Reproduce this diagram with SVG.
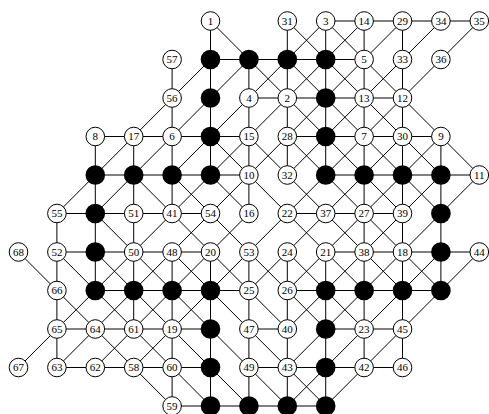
<svg xmlns="http://www.w3.org/2000/svg" width="489" height="414" viewBox="0 0 489 414">
<style>
.e line{stroke:#000;stroke-width:1;vector-effect:non-scaling-stroke}
.w{fill:#fff;stroke:#000;stroke-width:1}
.b{fill:#000}
text{font-family:"Liberation Serif","Times New Roman",serif;font-size:11px;text-anchor:middle}
</style>
<rect width="489" height="414" fill="#fff"/>
<g id="edges" class="e" transform="translate(18.5 21) scale(38.4 38.5)">
<line x1="8" y1="0" x2="9" y2="0"/><line x1="9" y1="0" x2="10" y2="0"/><line x1="10" y1="0" x2="11" y2="0"/><line x1="11" y1="0" x2="12" y2="0"/>
<line x1="5" y1="1" x2="6" y2="1"/><line x1="6" y1="1" x2="7" y2="1"/><line x1="7" y1="1" x2="8" y2="1"/><line x1="8" y1="1" x2="9" y2="1"/>
<line x1="6" y1="2" x2="7" y2="2"/><line x1="7" y1="2" x2="8" y2="2"/><line x1="8" y1="2" x2="9" y2="2"/><line x1="9" y1="2" x2="10" y2="2"/>
<line x1="2" y1="3" x2="3" y2="3"/><line x1="3" y1="3" x2="4" y2="3"/><line x1="4" y1="3" x2="5" y2="3"/><line x1="5" y1="3" x2="6" y2="3"/><line x1="7" y1="3" x2="8" y2="3"/><line x1="8" y1="3" x2="9" y2="3"/><line x1="9" y1="3" x2="10" y2="3"/><line x1="10" y1="3" x2="11" y2="3"/>
<line x1="2" y1="4" x2="3" y2="4"/><line x1="3" y1="4" x2="4" y2="4"/><line x1="4" y1="4" x2="5" y2="4"/><line x1="5" y1="4" x2="6" y2="4"/><line x1="8" y1="4" x2="9" y2="4"/><line x1="9" y1="4" x2="10" y2="4"/><line x1="10" y1="4" x2="11" y2="4"/><line x1="11" y1="4" x2="12" y2="4"/>
<line x1="1" y1="5" x2="2" y2="5"/><line x1="2" y1="5" x2="3" y2="5"/><line x1="3" y1="5" x2="4" y2="5"/><line x1="4" y1="5" x2="5" y2="5"/><line x1="7" y1="5" x2="8" y2="5"/><line x1="8" y1="5" x2="9" y2="5"/><line x1="9" y1="5" x2="10" y2="5"/>
<line x1="1" y1="6" x2="2" y2="6"/><line x1="2" y1="6" x2="3" y2="6"/><line x1="3" y1="6" x2="4" y2="6"/><line x1="4" y1="6" x2="5" y2="6"/><line x1="8" y1="6" x2="9" y2="6"/><line x1="9" y1="6" x2="10" y2="6"/><line x1="10" y1="6" x2="11" y2="6"/><line x1="11" y1="6" x2="12" y2="6"/>
<line x1="2" y1="7" x2="3" y2="7"/><line x1="3" y1="7" x2="4" y2="7"/><line x1="4" y1="7" x2="5" y2="7"/><line x1="5" y1="7" x2="6" y2="7"/><line x1="7" y1="7" x2="8" y2="7"/><line x1="8" y1="7" x2="9" y2="7"/><line x1="9" y1="7" x2="10" y2="7"/><line x1="10" y1="7" x2="11" y2="7"/>
<line x1="1" y1="8" x2="2" y2="8"/><line x1="2" y1="8" x2="3" y2="8"/><line x1="3" y1="8" x2="4" y2="8"/><line x1="4" y1="8" x2="5" y2="8"/><line x1="6" y1="8" x2="7" y2="8"/><line x1="8" y1="8" x2="9" y2="8"/><line x1="9" y1="8" x2="10" y2="8"/>
<line x1="1" y1="9" x2="2" y2="9"/><line x1="2" y1="9" x2="3" y2="9"/><line x1="3" y1="9" x2="4" y2="9"/><line x1="4" y1="9" x2="5" y2="9"/><line x1="6" y1="9" x2="7" y2="9"/><line x1="7" y1="9" x2="8" y2="9"/><line x1="8" y1="9" x2="9" y2="9"/><line x1="9" y1="9" x2="10" y2="9"/>
<line x1="4" y1="10" x2="5" y2="10"/><line x1="5" y1="10" x2="6" y2="10"/><line x1="6" y1="10" x2="7" y2="10"/><line x1="7" y1="10" x2="8" y2="10"/>
<line x1="1" y1="5" x2="1" y2="6"/><line x1="1" y1="6" x2="1" y2="7"/><line x1="1" y1="7" x2="1" y2="8"/><line x1="1" y1="8" x2="1" y2="9"/>
<line x1="2" y1="3" x2="2" y2="4"/><line x1="2" y1="4" x2="2" y2="5"/><line x1="2" y1="5" x2="2" y2="6"/><line x1="2" y1="6" x2="2" y2="7"/>
<line x1="3" y1="3" x2="3" y2="4"/><line x1="3" y1="4" x2="3" y2="5"/><line x1="3" y1="5" x2="3" y2="6"/><line x1="3" y1="6" x2="3" y2="7"/><line x1="3" y1="7" x2="3" y2="8"/>
<line x1="4" y1="1" x2="4" y2="2"/><line x1="4" y1="2" x2="4" y2="3"/><line x1="4" y1="3" x2="4" y2="4"/><line x1="4" y1="4" x2="4" y2="5"/><line x1="4" y1="6" x2="4" y2="7"/><line x1="4" y1="7" x2="4" y2="8"/><line x1="4" y1="8" x2="4" y2="9"/><line x1="4" y1="9" x2="4" y2="10"/>
<line x1="5" y1="0" x2="5" y2="1"/><line x1="5" y1="1" x2="5" y2="2"/><line x1="5" y1="2" x2="5" y2="3"/><line x1="5" y1="3" x2="5" y2="4"/><line x1="5" y1="6" x2="5" y2="7"/><line x1="5" y1="7" x2="5" y2="8"/><line x1="5" y1="8" x2="5" y2="9"/><line x1="5" y1="9" x2="5" y2="10"/>
<line x1="6" y1="1" x2="6" y2="2"/><line x1="6" y1="2" x2="6" y2="3"/><line x1="6" y1="3" x2="6" y2="4"/><line x1="6" y1="4" x2="6" y2="5"/><line x1="6" y1="6" x2="6" y2="7"/><line x1="6" y1="7" x2="6" y2="8"/><line x1="6" y1="8" x2="6" y2="9"/><line x1="6" y1="9" x2="6" y2="10"/>
<line x1="7" y1="0" x2="7" y2="1"/><line x1="7" y1="1" x2="7" y2="2"/><line x1="7" y1="2" x2="7" y2="3"/><line x1="7" y1="3" x2="7" y2="4"/><line x1="7" y1="6" x2="7" y2="7"/><line x1="7" y1="7" x2="7" y2="8"/><line x1="7" y1="8" x2="7" y2="9"/><line x1="7" y1="9" x2="7" y2="10"/>
<line x1="8" y1="0" x2="8" y2="1"/><line x1="8" y1="1" x2="8" y2="2"/><line x1="8" y1="2" x2="8" y2="3"/><line x1="8" y1="3" x2="8" y2="4"/><line x1="8" y1="6" x2="8" y2="7"/><line x1="8" y1="7" x2="8" y2="8"/><line x1="8" y1="8" x2="8" y2="9"/><line x1="8" y1="9" x2="8" y2="10"/>
<line x1="9" y1="0" x2="9" y2="1"/><line x1="9" y1="1" x2="9" y2="2"/><line x1="9" y1="2" x2="9" y2="3"/><line x1="9" y1="3" x2="9" y2="4"/><line x1="9" y1="4" x2="9" y2="5"/><line x1="9" y1="5" x2="9" y2="6"/><line x1="9" y1="6" x2="9" y2="7"/><line x1="9" y1="7" x2="9" y2="8"/><line x1="9" y1="8" x2="9" y2="9"/>
<line x1="10" y1="0" x2="10" y2="1"/><line x1="10" y1="1" x2="10" y2="2"/><line x1="10" y1="2" x2="10" y2="3"/><line x1="10" y1="3" x2="10" y2="4"/><line x1="10" y1="4" x2="10" y2="5"/><line x1="10" y1="5" x2="10" y2="6"/><line x1="10" y1="6" x2="10" y2="7"/><line x1="10" y1="7" x2="10" y2="8"/><line x1="10" y1="8" x2="10" y2="9"/>
<line x1="11" y1="3" x2="11" y2="4"/><line x1="11" y1="4" x2="11" y2="5"/><line x1="11" y1="5" x2="11" y2="6"/><line x1="11" y1="6" x2="11" y2="7"/>
<line x1="5" y1="0" x2="6" y2="1"/><line x1="7" y1="0" x2="8" y2="1"/><line x1="8" y1="0" x2="9" y2="1"/>
<line x1="6" y1="1" x2="7" y2="2"/><line x1="7" y1="1" x2="8" y2="2"/><line x1="8" y1="1" x2="9" y2="2"/><line x1="9" y1="1" x2="10" y2="2"/>
<line x1="7" y1="2" x2="8" y2="3"/><line x1="8" y1="2" x2="9" y2="3"/><line x1="9" y1="2" x2="10" y2="3"/><line x1="10" y1="2" x2="11" y2="3"/>
<line x1="5" y1="3" x2="6" y2="4"/><line x1="6" y1="3" x2="7" y2="4"/><line x1="7" y1="3" x2="8" y2="4"/><line x1="8" y1="3" x2="9" y2="4"/><line x1="9" y1="3" x2="10" y2="4"/><line x1="10" y1="3" x2="11" y2="4"/><line x1="11" y1="3" x2="12" y2="4"/>
<line x1="3" y1="4" x2="4" y2="5"/><line x1="4" y1="4" x2="5" y2="5"/><line x1="5" y1="4" x2="6" y2="5"/><line x1="6" y1="4" x2="7" y2="5"/><line x1="7" y1="4" x2="8" y2="5"/><line x1="8" y1="4" x2="9" y2="5"/><line x1="9" y1="4" x2="10" y2="5"/><line x1="10" y1="4" x2="11" y2="5"/>
<line x1="2" y1="5" x2="3" y2="6"/><line x1="4" y1="5" x2="5" y2="6"/><line x1="5" y1="5" x2="6" y2="6"/><line x1="7" y1="5" x2="8" y2="6"/><line x1="8" y1="5" x2="9" y2="6"/><line x1="9" y1="5" x2="10" y2="6"/>
<line x1="0" y1="6" x2="1" y2="7"/><line x1="1" y1="6" x2="2" y2="7"/><line x1="2" y1="6" x2="3" y2="7"/><line x1="3" y1="6" x2="4" y2="7"/><line x1="4" y1="6" x2="5" y2="7"/><line x1="5" y1="6" x2="6" y2="7"/><line x1="6" y1="6" x2="7" y2="7"/><line x1="7" y1="6" x2="8" y2="7"/><line x1="8" y1="6" x2="9" y2="7"/><line x1="9" y1="6" x2="10" y2="7"/><line x1="10" y1="6" x2="11" y2="7"/>
<line x1="1" y1="7" x2="2" y2="8"/><line x1="2" y1="7" x2="3" y2="8"/><line x1="3" y1="7" x2="4" y2="8"/><line x1="4" y1="7" x2="5" y2="8"/><line x1="5" y1="7" x2="6" y2="8"/><line x1="6" y1="7" x2="7" y2="8"/><line x1="7" y1="7" x2="8" y2="8"/><line x1="8" y1="7" x2="9" y2="8"/>
<line x1="2" y1="8" x2="3" y2="9"/><line x1="3" y1="8" x2="4" y2="9"/><line x1="4" y1="8" x2="5" y2="9"/><line x1="5" y1="8" x2="6" y2="9"/><line x1="6" y1="8" x2="7" y2="9"/>
<line x1="3" y1="9" x2="4" y2="10"/><line x1="4" y1="9" x2="5" y2="10"/><line x1="5" y1="9" x2="6" y2="10"/><line x1="6" y1="9" x2="7" y2="10"/><line x1="7" y1="9" x2="8" y2="10"/>
<line x1="8" y1="0" x2="7" y2="1"/><line x1="9" y1="0" x2="8" y2="1"/><line x1="10" y1="0" x2="9" y2="1"/><line x1="11" y1="0" x2="10" y2="1"/><line x1="12" y1="0" x2="11" y2="1"/>
<line x1="5" y1="1" x2="4" y2="2"/><line x1="6" y1="1" x2="5" y2="2"/><line x1="7" y1="1" x2="6" y2="2"/><line x1="8" y1="1" x2="7" y2="2"/><line x1="9" y1="1" x2="8" y2="2"/><line x1="10" y1="1" x2="9" y2="2"/><line x1="11" y1="1" x2="10" y2="2"/>
<line x1="4" y1="2" x2="3" y2="3"/><line x1="5" y1="2" x2="4" y2="3"/><line x1="6" y1="2" x2="5" y2="3"/><line x1="7" y1="2" x2="6" y2="3"/><line x1="8" y1="2" x2="7" y2="3"/><line x1="9" y1="2" x2="8" y2="3"/><line x1="10" y1="2" x2="9" y2="3"/>
<line x1="3" y1="3" x2="2" y2="4"/><line x1="4" y1="3" x2="3" y2="4"/><line x1="5" y1="3" x2="4" y2="4"/><line x1="6" y1="3" x2="5" y2="4"/><line x1="7" y1="3" x2="6" y2="4"/><line x1="8" y1="3" x2="7" y2="4"/><line x1="9" y1="3" x2="8" y2="4"/><line x1="10" y1="3" x2="9" y2="4"/><line x1="11" y1="3" x2="10" y2="4"/>
<line x1="2" y1="4" x2="1" y2="5"/><line x1="3" y1="4" x2="2" y2="5"/><line x1="5" y1="4" x2="4" y2="5"/><line x1="6" y1="4" x2="5" y2="5"/><line x1="8" y1="4" x2="7" y2="5"/><line x1="9" y1="4" x2="8" y2="5"/><line x1="10" y1="4" x2="9" y2="5"/><line x1="11" y1="4" x2="10" y2="5"/><line x1="12" y1="4" x2="11" y2="5"/>
<line x1="4" y1="5" x2="3" y2="6"/><line x1="5" y1="5" x2="4" y2="6"/><line x1="6" y1="5" x2="5" y2="6"/><line x1="7" y1="5" x2="6" y2="6"/><line x1="8" y1="5" x2="7" y2="6"/><line x1="9" y1="5" x2="8" y2="6"/><line x1="10" y1="5" x2="9" y2="6"/><line x1="11" y1="5" x2="10" y2="6"/>
<line x1="3" y1="6" x2="2" y2="7"/><line x1="4" y1="6" x2="3" y2="7"/><line x1="5" y1="6" x2="4" y2="7"/><line x1="6" y1="6" x2="5" y2="7"/><line x1="7" y1="6" x2="6" y2="7"/><line x1="8" y1="6" x2="7" y2="7"/><line x1="9" y1="6" x2="8" y2="7"/><line x1="10" y1="6" x2="9" y2="7"/><line x1="11" y1="6" x2="10" y2="7"/><line x1="12" y1="6" x2="11" y2="7"/>
<line x1="2" y1="7" x2="1" y2="8"/><line x1="3" y1="7" x2="2" y2="8"/><line x1="4" y1="7" x2="3" y2="8"/><line x1="5" y1="7" x2="4" y2="8"/><line x1="8" y1="7" x2="7" y2="8"/><line x1="9" y1="7" x2="8" y2="8"/><line x1="10" y1="7" x2="9" y2="8"/><line x1="11" y1="7" x2="10" y2="8"/>
<line x1="1" y1="8" x2="0" y2="9"/><line x1="2" y1="8" x2="1" y2="9"/><line x1="3" y1="8" x2="2" y2="9"/><line x1="4" y1="8" x2="3" y2="9"/><line x1="8" y1="8" x2="7" y2="9"/><line x1="9" y1="8" x2="8" y2="9"/><line x1="10" y1="8" x2="9" y2="9"/>
<line x1="8" y1="9" x2="7" y2="10"/><line x1="9" y1="9" x2="8" y2="10"/>
</g>
<g id="n1" transform="translate(210.5 21)"><circle class="w" r="9.3"/><text dy="3.8">1</text></g>
<g id="n31" transform="translate(287.3 21)"><circle class="w" r="9.3"/><text dy="3.8">31</text></g>
<g id="n3" transform="translate(325.7 21)"><circle class="w" r="9.3"/><text dy="3.8">3</text></g>
<g id="n14" transform="translate(364.1 21)"><circle class="w" r="9.3"/><text dy="3.8">14</text></g>
<g id="n29" transform="translate(402.5 21)"><circle class="w" r="9.3"/><text dy="3.8">29</text></g>
<g id="n34" transform="translate(440.9 21)"><circle class="w" r="9.3"/><text dy="3.8">34</text></g>
<g id="n35" transform="translate(479.3 21)"><circle class="w" r="9.3"/><text dy="3.8">35</text></g>
<g id="n57" transform="translate(172.1 59.5)"><circle class="w" r="9.3"/><text dy="3.8">57</text></g>
<g id="k5_1" transform="translate(210.5 59.5)"><circle class="b" r="9.8"/></g>
<g id="k6_1" transform="translate(248.9 59.5)"><circle class="b" r="9.8"/></g>
<g id="k7_1" transform="translate(287.3 59.5)"><circle class="b" r="9.8"/></g>
<g id="k8_1" transform="translate(325.7 59.5)"><circle class="b" r="9.8"/></g>
<g id="n5" transform="translate(364.1 59.5)"><circle class="w" r="9.3"/><text dy="3.8">5</text></g>
<g id="n33" transform="translate(402.5 59.5)"><circle class="w" r="9.3"/><text dy="3.8">33</text></g>
<g id="n36" transform="translate(440.9 59.5)"><circle class="w" r="9.3"/><text dy="3.8">36</text></g>
<g id="n56" transform="translate(172.1 98)"><circle class="w" r="9.3"/><text dy="3.8">56</text></g>
<g id="k5_2" transform="translate(210.5 98)"><circle class="b" r="9.8"/></g>
<g id="n4" transform="translate(248.9 98)"><circle class="w" r="9.3"/><text dy="3.8">4</text></g>
<g id="n2" transform="translate(287.3 98)"><circle class="w" r="9.3"/><text dy="3.8">2</text></g>
<g id="k8_2" transform="translate(325.7 98)"><circle class="b" r="9.8"/></g>
<g id="n13" transform="translate(364.1 98)"><circle class="w" r="9.3"/><text dy="3.8">13</text></g>
<g id="n12" transform="translate(402.5 98)"><circle class="w" r="9.3"/><text dy="3.8">12</text></g>
<g id="n8" transform="translate(95.3 136.5)"><circle class="w" r="9.3"/><text dy="3.8">8</text></g>
<g id="n17" transform="translate(133.7 136.5)"><circle class="w" r="9.3"/><text dy="3.8">17</text></g>
<g id="n6" transform="translate(172.1 136.5)"><circle class="w" r="9.3"/><text dy="3.8">6</text></g>
<g id="k5_3" transform="translate(210.5 136.5)"><circle class="b" r="9.8"/></g>
<g id="n15" transform="translate(248.9 136.5)"><circle class="w" r="9.3"/><text dy="3.8">15</text></g>
<g id="n28" transform="translate(287.3 136.5)"><circle class="w" r="9.3"/><text dy="3.8">28</text></g>
<g id="k8_3" transform="translate(325.7 136.5)"><circle class="b" r="9.8"/></g>
<g id="n7" transform="translate(364.1 136.5)"><circle class="w" r="9.3"/><text dy="3.8">7</text></g>
<g id="n30" transform="translate(402.5 136.5)"><circle class="w" r="9.3"/><text dy="3.8">30</text></g>
<g id="n9" transform="translate(440.9 136.5)"><circle class="w" r="9.3"/><text dy="3.8">9</text></g>
<g id="k2_4" transform="translate(95.3 175)"><circle class="b" r="9.8"/></g>
<g id="k3_4" transform="translate(133.7 175)"><circle class="b" r="9.8"/></g>
<g id="k4_4" transform="translate(172.1 175)"><circle class="b" r="9.8"/></g>
<g id="k5_4" transform="translate(210.5 175)"><circle class="b" r="9.8"/></g>
<g id="n10" transform="translate(248.9 175)"><circle class="w" r="9.3"/><text dy="3.8">10</text></g>
<g id="n32" transform="translate(287.3 175)"><circle class="w" r="9.3"/><text dy="3.8">32</text></g>
<g id="k8_4" transform="translate(325.7 175)"><circle class="b" r="9.8"/></g>
<g id="k9_4" transform="translate(364.1 175)"><circle class="b" r="9.8"/></g>
<g id="k10_4" transform="translate(402.5 175)"><circle class="b" r="9.8"/></g>
<g id="k11_4" transform="translate(440.9 175)"><circle class="b" r="9.8"/></g>
<g id="n11" transform="translate(479.3 175)"><circle class="w" r="9.3"/><text dy="3.8">11</text></g>
<g id="n55" transform="translate(56.9 213.5)"><circle class="w" r="9.3"/><text dy="3.8">55</text></g>
<g id="k2_5" transform="translate(95.3 213.5)"><circle class="b" r="9.8"/></g>
<g id="n51" transform="translate(133.7 213.5)"><circle class="w" r="9.3"/><text dy="3.8">51</text></g>
<g id="n41" transform="translate(172.1 213.5)"><circle class="w" r="9.3"/><text dy="3.8">41</text></g>
<g id="n54" transform="translate(210.5 213.5)"><circle class="w" r="9.3"/><text dy="3.8">54</text></g>
<g id="n16" transform="translate(248.9 213.5)"><circle class="w" r="9.3"/><text dy="3.8">16</text></g>
<g id="n22" transform="translate(287.3 213.5)"><circle class="w" r="9.3"/><text dy="3.8">22</text></g>
<g id="n37" transform="translate(325.7 213.5)"><circle class="w" r="9.3"/><text dy="3.8">37</text></g>
<g id="n27" transform="translate(364.1 213.5)"><circle class="w" r="9.3"/><text dy="3.8">27</text></g>
<g id="n39" transform="translate(402.5 213.5)"><circle class="w" r="9.3"/><text dy="3.8">39</text></g>
<g id="k11_5" transform="translate(440.9 213.5)"><circle class="b" r="9.8"/></g>
<g id="n68" transform="translate(18.5 252)"><circle class="w" r="9.3"/><text dy="3.8">68</text></g>
<g id="n52" transform="translate(56.9 252)"><circle class="w" r="9.3"/><text dy="3.8">52</text></g>
<g id="k2_6" transform="translate(95.3 252)"><circle class="b" r="9.8"/></g>
<g id="n50" transform="translate(133.7 252)"><circle class="w" r="9.3"/><text dy="3.8">50</text></g>
<g id="n48" transform="translate(172.1 252)"><circle class="w" r="9.3"/><text dy="3.8">48</text></g>
<g id="n20" transform="translate(210.5 252)"><circle class="w" r="9.3"/><text dy="3.8">20</text></g>
<g id="n53" transform="translate(248.9 252)"><circle class="w" r="9.3"/><text dy="3.8">53</text></g>
<g id="n24" transform="translate(287.3 252)"><circle class="w" r="9.3"/><text dy="3.8">24</text></g>
<g id="n21" transform="translate(325.7 252)"><circle class="w" r="9.3"/><text dy="3.8">21</text></g>
<g id="n38" transform="translate(364.1 252)"><circle class="w" r="9.3"/><text dy="3.8">38</text></g>
<g id="n18" transform="translate(402.5 252)"><circle class="w" r="9.3"/><text dy="3.8">18</text></g>
<g id="k11_6" transform="translate(440.9 252)"><circle class="b" r="9.8"/></g>
<g id="n44" transform="translate(479.3 252)"><circle class="w" r="9.3"/><text dy="3.8">44</text></g>
<g id="n66" transform="translate(56.9 290.5)"><circle class="w" r="9.3"/><text dy="3.8">66</text></g>
<g id="k2_7" transform="translate(95.3 290.5)"><circle class="b" r="9.8"/></g>
<g id="k3_7" transform="translate(133.7 290.5)"><circle class="b" r="9.8"/></g>
<g id="k4_7" transform="translate(172.1 290.5)"><circle class="b" r="9.8"/></g>
<g id="k5_7" transform="translate(210.5 290.5)"><circle class="b" r="9.8"/></g>
<g id="n25" transform="translate(248.9 290.5)"><circle class="w" r="9.3"/><text dy="3.8">25</text></g>
<g id="n26" transform="translate(287.3 290.5)"><circle class="w" r="9.3"/><text dy="3.8">26</text></g>
<g id="k8_7" transform="translate(325.7 290.5)"><circle class="b" r="9.8"/></g>
<g id="k9_7" transform="translate(364.1 290.5)"><circle class="b" r="9.8"/></g>
<g id="k10_7" transform="translate(402.5 290.5)"><circle class="b" r="9.8"/></g>
<g id="k11_7" transform="translate(440.9 290.5)"><circle class="b" r="9.8"/></g>
<g id="n65" transform="translate(56.9 329)"><circle class="w" r="9.3"/><text dy="3.8">65</text></g>
<g id="n64" transform="translate(95.3 329)"><circle class="w" r="9.3"/><text dy="3.8">64</text></g>
<g id="n61" transform="translate(133.7 329)"><circle class="w" r="9.3"/><text dy="3.8">61</text></g>
<g id="n19" transform="translate(172.1 329)"><circle class="w" r="9.3"/><text dy="3.8">19</text></g>
<g id="k5_8" transform="translate(210.5 329)"><circle class="b" r="9.8"/></g>
<g id="n47" transform="translate(248.9 329)"><circle class="w" r="9.3"/><text dy="3.8">47</text></g>
<g id="n40" transform="translate(287.3 329)"><circle class="w" r="9.3"/><text dy="3.8">40</text></g>
<g id="k8_8" transform="translate(325.7 329)"><circle class="b" r="9.8"/></g>
<g id="n23" transform="translate(364.1 329)"><circle class="w" r="9.3"/><text dy="3.8">23</text></g>
<g id="n45" transform="translate(402.5 329)"><circle class="w" r="9.3"/><text dy="3.8">45</text></g>
<g id="n67" transform="translate(18.5 367.5)"><circle class="w" r="9.3"/><text dy="3.8">67</text></g>
<g id="n63" transform="translate(56.9 367.5)"><circle class="w" r="9.3"/><text dy="3.8">63</text></g>
<g id="n62" transform="translate(95.3 367.5)"><circle class="w" r="9.3"/><text dy="3.8">62</text></g>
<g id="n58" transform="translate(133.7 367.5)"><circle class="w" r="9.3"/><text dy="3.8">58</text></g>
<g id="n60" transform="translate(172.1 367.5)"><circle class="w" r="9.3"/><text dy="3.8">60</text></g>
<g id="k5_9" transform="translate(210.5 367.5)"><circle class="b" r="9.8"/></g>
<g id="n49" transform="translate(248.9 367.5)"><circle class="w" r="9.3"/><text dy="3.8">49</text></g>
<g id="n43" transform="translate(287.3 367.5)"><circle class="w" r="9.3"/><text dy="3.8">43</text></g>
<g id="k8_9" transform="translate(325.7 367.5)"><circle class="b" r="9.8"/></g>
<g id="n42" transform="translate(364.1 367.5)"><circle class="w" r="9.3"/><text dy="3.8">42</text></g>
<g id="n46" transform="translate(402.5 367.5)"><circle class="w" r="9.3"/><text dy="3.8">46</text></g>
<g id="n59" transform="translate(172.1 406)"><circle class="w" r="9.3"/><text dy="3.8">59</text></g>
<g id="k5_10" transform="translate(210.5 406)"><circle class="b" r="9.8"/></g>
<g id="k6_10" transform="translate(248.9 406)"><circle class="b" r="9.8"/></g>
<g id="k7_10" transform="translate(287.3 406)"><circle class="b" r="9.8"/></g>
<g id="k8_10" transform="translate(325.7 406)"><circle class="b" r="9.8"/></g>
</svg>
